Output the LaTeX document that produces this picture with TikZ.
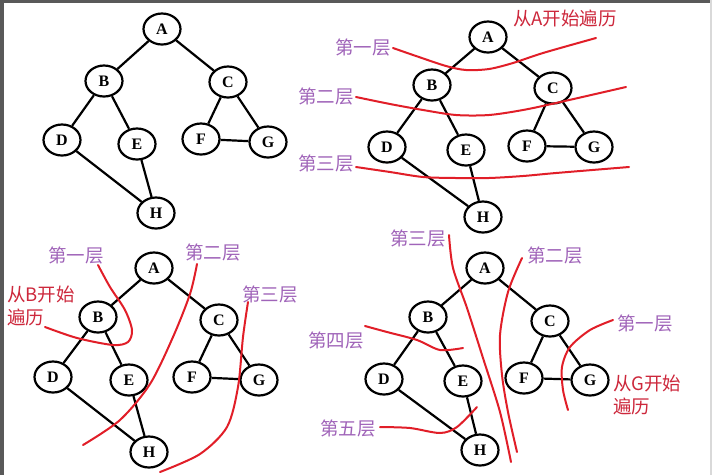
\documentclass[tikz,border=0pt]{standalone}
\usepackage{fontspec}
\setmainfont{Liberation Serif}
\newfontfamily\cjk{Noto Sans CJK SC}
\usetikzlibrary{shapes.geometric}
\definecolor{lblpurple}{RGB}{160,100,185}
\definecolor{lblred}{RGB}{205,40,60}
\definecolor{curvered}{RGB}{225,30,40}
\tikzset{
  vtx/.style={ellipse, draw=black, line width=2.2pt, fill=white, minimum width=37pt, minimum height=31pt, inner sep=0pt, font=\bfseries\fontsize{16}{16}\selectfont},
  edge/.style={line width=2.2pt, black},
  purplelbl/.style={text=lblpurple, font=\cjk\fontsize{18.5}{19}\selectfont, inner sep=0pt},
  redlbl/.style={text=lblred, font=\cjk\fontsize{18.5}{23}\selectfont, inner sep=0pt, align=left},
  redcurve/.style={draw=curvered, line width=2pt, line cap=round}
}
\newcommand{\mygraph}[9]{%
  \node[vtx] (#1A) at #2 {A};
  \node[vtx] (#1B) at #3 {B};
  \node[vtx] (#1C) at #4 {C};
  \node[vtx] (#1D) at #5 {D};
  \node[vtx] (#1E) at #6 {E};
  \node[vtx] (#1F) at #7 {F};
  \node[vtx] (#1G) at #8 {G};
  \node[vtx] (#1H) at #9 {H};
  \draw[edge] (#1A) -- (#1B);
  \draw[edge] (#1A) -- (#1C);
  \draw[edge] (#1B) -- (#1D);
  \draw[edge] (#1B) -- (#1E);
  \draw[edge] (#1C) -- (#1F);
  \draw[edge] (#1C) -- (#1G);
  \draw[edge] (#1F) -- (#1G);
  \draw[edge] (#1D) -- (#1H);
  \draw[edge] (#1E) -- (#1H);
}
\begin{document}
\begin{tikzpicture}[x=1pt,y=-1pt]
\useasboundingbox (0,0) rectangle (712,475);
\fill[white] (0,0) rectangle (712,475);
\fill[black!65] (0,0) rectangle (4,475);
\fill[black!65] (0,0) rectangle (712,2.5);
\fill[black!15] (710,0) rectangle (712,475);

% Panel 1
\mygraph{p}{(162,29)}{(104,81)}{(228,82)}{(62,140)}{(137,144)}{(201,139)}{(268,142)}{(156,213)}

% Panel 2
\mygraph{q}{(488,37)}{(432,85)}{(553,88)}{(387,147)}{(466,150)}{(527,146)}{(594,147)}{(483,217)}
\node[redlbl] (qstart) at (565,18) {从A开始遍历};
\node[purplelbl] (ql1) at (363,48) {第一层};
\node[purplelbl] (ql2) at (326,97) {第二层};
\node[purplelbl] (ql3) at (326,164) {第三层};
\draw[redcurve] plot[smooth] coordinates {(393,48) (416,56) (446,66) (466,70) (489,69) (513,63) (543,53) (596,38)};
\draw[redcurve] plot[smooth] coordinates {(356,97) (390,104) (423,110) (456,115) (489,115) (523,110) (556,103) (626,87)};
\draw[redcurve] plot[smooth] coordinates {(356,167) (390,172) (423,177) (456,178) (489,178) (523,176) (556,173) (629,167)};

% Panel 3
\mygraph{r}{(154,268)}{(98,317)}{(219,320)}{(53,377)}{(129,380)}{(192,377)}{(259,380)}{(149,452)}
\node[purplelbl] (rl1) at (76,255) {第一层};
\node[purplelbl] (rl2) at (213,252) {第二层};
\node[purplelbl] (rl3) at (270,294) {第三层};
\node[redlbl, anchor=west] (rstart) at (7,306) {从B开始\\遍历};
\draw[redcurve] plot[smooth] coordinates {(98,265) (110,287) (125,310) (132,330) (128,342) (113,345) (77,338) (45,327)};
\draw[redcurve] plot[smooth] coordinates {(197,264) (190,294) (173,337) (150,384) (120,420) (83,445)};
\draw[redcurve] plot[smooth] coordinates {(248,302) (243,337) (238,387) (227,427) (200,454) (160,472)};

% Panel 4
\mygraph{s}{(485,268)}{(428,317)}{(550,321)}{(384,379)}{(463,381)}{(524,378)}{(590,380)}{(480,450)}
\node[purplelbl] (sl3) at (418,238) {第三层};
\node[purplelbl] (sl2) at (555,255) {第二层};
\node[purplelbl] (sl1) at (645,323) {第一层};
\node[purplelbl] (sl4) at (336,340) {第四层};
\node[purplelbl] (sl5) at (348,428) {第五层};
\node[redlbl, anchor=west] (sstart) at (613,395) {从G开始\\遍历};
\draw[redcurve] plot[smooth] coordinates {(449,235) (453,268) (467,308) (483,358) (500,412) (511,462)};
\draw[redcurve] plot[smooth] coordinates {(522,258) (508,292) (500,335) (502,375) (508,412) (517,452)};
\draw[redcurve] plot[smooth] coordinates {(613,320) (590,330) (570,347) (562,367) (563,390) (568,410)};
\draw[redcurve] plot[smooth] coordinates {(365,326) (387,332) (417,340) (440,350) (463,348)};
\draw[redcurve] plot[smooth] coordinates {(380,427) (410,428) (440,433) (457,427) (477,407)};
\end{tikzpicture}
\end{document}
